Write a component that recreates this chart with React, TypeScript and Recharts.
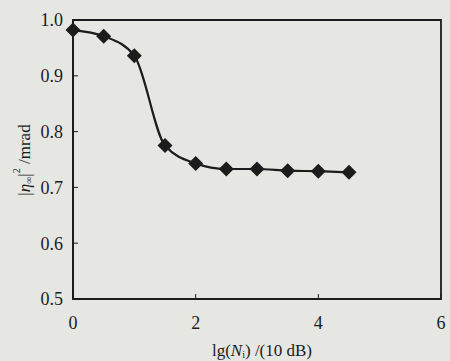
import { LineChart, Line, XAxis, YAxis, ReferenceArea } from 'recharts'

const xValues = [0, 0.5, 1, 1.5, 2, 2.5, 3, 3.5, 4, 4.5]
const etaValues = [0.982, 0.971, 0.936, 0.775, 0.743, 0.733, 0.733, 0.73, 0.729, 0.727]
const xTicks = [0, 2, 4, 6]
const yTicks = [0.5, 0.6, 0.7, 0.8, 0.9, 1.0]

const data = xValues.map((x, i) => ({ x, eta: etaValues[i] }))

const INK = '#1c1c1c'
const FONT = '"Liberation Serif", "DejaVu Serif", serif'

const Diamond = (props: { cx?: number; cy?: number; index?: number }) => {
  const { cx, cy, index } = props
  if (cx == null || cy == null) return null
  const r = 7.5
  return (
    <polygon
      key={`d-${index}`}
      points={`${cx},${cy - r} ${cx + r},${cy} ${cx},${cy + r} ${cx - r},${cy}`}
      fill={INK}
    />
  )
}

const YLabel = () => (
  <text
    transform="translate(24,160) rotate(-90)"
    textAnchor="middle"
    dominantBaseline="central"
    fontFamily={FONT}
    fontSize={17}
    fill={INK}
  >
    |<tspan fontStyle="italic">η</tspan>
    <tspan fontSize={10} dy={4}>∞</tspan>
    <tspan dy={-4}>|</tspan>
    <tspan fontSize={10} dy={-8}>2</tspan>
    <tspan dy={8}> /mrad</tspan>
  </text>
)

const XLabel = () => (
  <text
    x={262}
    y={350}
    textAnchor="middle"
    dominantBaseline="central"
    fontFamily={FONT}
    fontSize={17}
    fill={INK}
  >
    lg(<tspan fontStyle="italic">N</tspan>
    <tspan fontSize={10} dy={4}>i</tspan>
    <tspan dy={-4}>) /(10 dB)</tspan>
  </text>
)

export default function App() {
  return (
    <div style={{ position: 'absolute', left: 0, top: 0, width: 450, height: 361, background: '#e6e6e3' }}>
      <LineChart width={450} height={361} data={data} margin={{ top: 20, right: 9, left: 0, bottom: 0 }}>
        <ReferenceArea x1={0} x2={6} y1={0.5} y2={1} fill="none" stroke={INK} strokeWidth={1.8} ifOverflow="visible" />
        <XAxis
          dataKey="x"
          type="number"
          domain={[0, 6]}
          ticks={xTicks}
          height={62}
          axisLine={{ stroke: INK, strokeWidth: 1.8 }}
          tickLine={{ stroke: INK }}
          tickSize={-5}
          tickMargin={22}
          tick={{ fill: INK, fontSize: 18, fontFamily: FONT }}
          label={<XLabel />}
        />
        <YAxis
          type="number"
          domain={[0.5, 1]}
          ticks={yTicks}
          width={73}
          axisLine={{ stroke: INK, strokeWidth: 1.8 }}
          tickLine={{ stroke: INK }}
          tickSize={-5}
          tickMargin={15}
          tickFormatter={(v: number) => v.toFixed(1)}
          tick={{ fill: INK, fontSize: 18, fontFamily: FONT }}
          label={<YLabel />}
        />
        <Line
          dataKey="eta"
          type="monotone"
          stroke={INK}
          strokeWidth={2.2}
          dot={<Diamond />}
          activeDot={false}
          isAnimationActive={false}
        />
      </LineChart>
    </div>
  )
}
